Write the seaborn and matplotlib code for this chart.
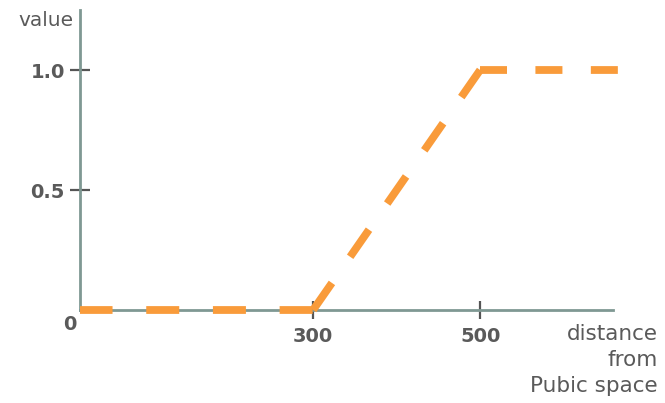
import matplotlib
matplotlib.use("Agg")
import matplotlib.pyplot as plt
import seaborn as sns
import pandas as pd
import numpy as np

# membership curve: 0 up to 300, linear rise to 1 at 500, flat afterwards
distance = [0, 300, 500, 665]
value = [0.0, 0.0, 1.0, 1.0]
x_ticks = [300, 500]
x_tick_labels = ["300", "500"]
y_ticks = [0.5, 1.0]
y_tick_labels = ["0.5", "1.0"]

sns.set_style("white")
plt.rcParams["font.family"] = ["DejaVu Sans"]

axis_col = "#7f9893"
tick_col = "#555555"
text_col = "#5a5a5a"
line_col = "#f99b3a"
line_w = 5.6  # points
DPI = 100
X_MIN, X_MAX, AXIS_END = 21, 665, 659
Y_MIN, Y_MAX = -0.05, 1.25

fig = plt.figure(figsize=(6.65, 4.03), dpi=DPI)
ax = fig.add_axes([80 / 665, 81 / 403, 538 / 665, 312 / 403])
ax.set_xlim(X_MIN, X_MAX)
ax.set_ylim(Y_MIN, Y_MAX)

df = pd.DataFrame({"distance": distance, "value": value})

# each straight piece gets its own dash pattern, stretched so that a dash
# starts and ends exactly at the corners (dashes wrap around the bends)
dash_counts = [4, 5, 3]
dash_px = [33, 33, 27]
lw_px = line_w * DPI / 72
for i in range(len(df) - 1):
    seg = df.iloc[i:i + 2]
    n_before = len(ax.lines)
    sns.lineplot(data=seg, x="distance", y="value", ax=ax, color=line_col,
                 linewidth=line_w)
    ln = ax.lines[n_before]
    pts = seg[["distance", "value"]].to_numpy(dtype=float)
    p = ax.transData.transform(pts)
    vis = pts.copy()
    vis[:, 0] = np.clip(vis[:, 0], X_MIN, X_MAX)
    pv = ax.transData.transform(vis)
    hidden = float(np.hypot(*(pv[0] - p[0])))
    vis_len = float(np.hypot(*(pv[1] - pv[0])))
    n = dash_counts[i]
    d = dash_px[i]
    g = (vis_len - n * d) / (n - 1)
    period = d + g
    offset = (-hidden) % period
    ln.set_linestyle((offset / lw_px, (d / lw_px, g / lw_px)))
    ln.set_dash_capstyle("butt")
    ln.set_zorder(3)

for side in ["top", "right"]:
    ax.spines[side].set_visible(False)
for side in ["left", "bottom"]:
    ax.spines[side].set_color(axis_col)
    ax.spines[side].set_linewidth(2)
ax.spines["bottom"].set_position(("data", 0))
ax.spines["bottom"].set_bounds(X_MIN, AXIS_END)
ax.spines["left"].set_bounds(0, Y_MAX)

ax.set_xticks(x_ticks)
ax.set_xticklabels(x_tick_labels)
ax.set_yticks(y_ticks)
ax.set_yticklabels(y_tick_labels)
ax.tick_params(axis="both", direction="inout", length=14, width=1.6,
               color=tick_col, labelcolor=text_col, labelsize=14,
               bottom=True, left=True)
ax.tick_params(axis="x", length=13, pad=6)
ax.tick_params(axis="y", pad=4)
for lbl in ax.get_xticklabels() + ax.get_yticklabels():
    lbl.set_fontweight("bold")

ax.set_xlabel("")
ax.set_ylabel("")

fig.text(70 / 665, 1 - 324 / 403, "0", ha="center", va="center",
         fontsize=14, fontweight="bold", color=text_col)
fig.text(74 / 665, 1 - 20 / 403, "value", ha="right", va="center",
         fontsize=14.5, color=text_col)
fig.text(658 / 665, 1 - 360 / 403, "distance\nfrom\nPubic space", ha="right",
         va="center", fontsize=15.5, color=text_col, linespacing=1.35)

fig.savefig("out.png", dpi=DPI)
